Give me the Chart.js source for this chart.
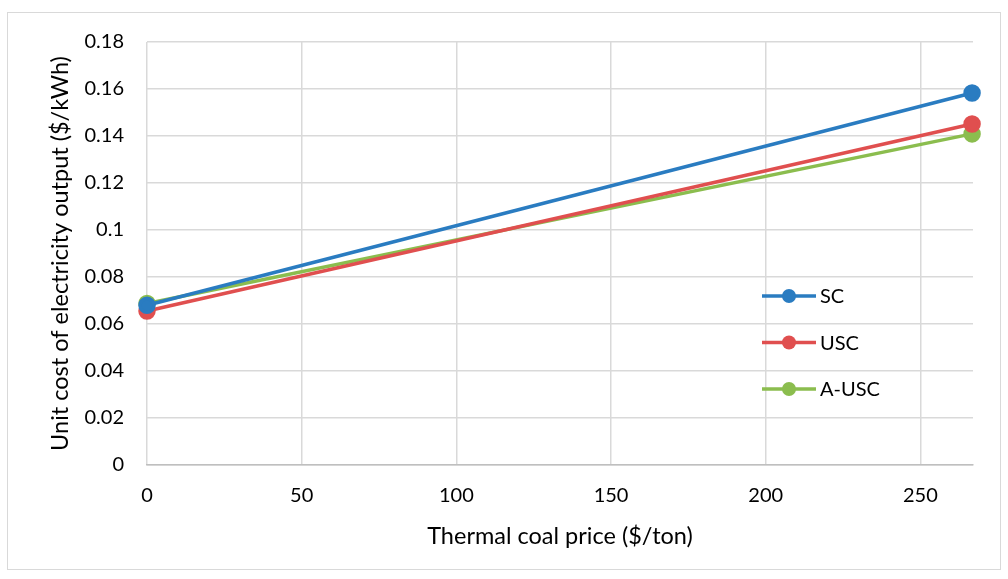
<!DOCTYPE html>
<html>
<head>
<meta charset="utf-8">
<script src="https://cdn.jsdelivr.net/npm/chart.js@4"></script>
<style>
    html, body { margin: 0; padding: 0; background: #fff; }
    #wrap { width: 1008px; height: 579px; }
</style>
</head>
<body>
<div id="wrap"><canvas id="coalChart" width="1008" height="579"></canvas></div>
<script>
// Values
const coalPrice = [0, 266.7];
const scCost = [0.0680, 0.1583];
const uscCost = [0.0655, 0.1451];
const auscCost = [0.0687, 0.1409];
const seriesNames = ['SC', 'USC', 'A-USC'];
const seriesColors = ['#2a7cc1', '#e04f4f', '#8bbd4e'];

const FONT = 'Lato, "Open Sans", sans-serif';

function toPoints(xs, ys) {
    return xs.map((x, i) => ({ x: x, y: ys[i] }));
}

// Legend drawn inside the plot area, plus the outer frame
const insideLegend = {
    id: 'insideLegend',
    afterDraw(chart) {
        const ctx = chart.ctx;
        ctx.save();
        ctx.strokeStyle = '#d9d9d9';
        ctx.lineWidth = 1;
        ctx.strokeRect(7.5, 12.5, 993, 557);

        const x0 = 762, y0 = 296, step = 46.5;
        ctx.font = '20px ' + FONT;
        ctx.textBaseline = 'middle';
        chart.data.datasets.forEach((ds, i) => {
            const y = y0 + i * step;
            ctx.strokeStyle = ds.borderColor;
            ctx.lineWidth = 3.5;
            ctx.beginPath();
            ctx.moveTo(x0, y);
            ctx.lineTo(x0 + 54, y);
            ctx.stroke();
            ctx.fillStyle = ds.borderColor;
            ctx.beginPath();
            ctx.arc(x0 + 27, y, 7, 0, Math.PI * 2);
            ctx.fill();
            ctx.fillStyle = '#000';
            ctx.fillText(ds.label, x0 + 58, y + 1);
        });
        ctx.restore();
    }
};

const datasets = [scCost, uscCost, auscCost].map((vals, i) => ({
    label: seriesNames[i],
    data: toPoints(coalPrice, vals),
    borderColor: seriesColors[i],
    backgroundColor: seriesColors[i],
    borderWidth: 3.5,
    pointRadius: 7,
    pointHoverRadius: 7,
    fill: false,
    clip: false
}));

new Chart(document.getElementById('coalChart').getContext('2d'), {
    type: 'line',
    data: { datasets: datasets },
    options: {
        responsive: false,
        animation: false,
        layout: { padding: { left: 0, top: 42, right: 35, bottom: 0 } },
        plugins: {
            legend: { display: false },
            tooltip: { enabled: false }
        },
        scales: {
            x: {
                type: 'linear',
                min: 0,
                max: 267,
                afterFit: scale => { scale.height = 114; },
                afterBuildTicks: scale => {
                    scale.ticks = [0, 50, 100, 150, 200, 250].map(v => ({ value: v }));
                },
                grid: { color: '#d9d9d9', lineWidth: 1.5, drawTicks: false },
                border: { color: '#bfbfbf', width: 1.5 },
                ticks: { color: '#000', padding: 19, font: { family: FONT, size: 20 } },
                title: {
                    display: true,
                    text: 'Thermal coal price ($/ton)',
                    color: '#000',
                    padding: { bottom: 28 },
                    font: { family: FONT, size: 23.5 }
                }
            },
            y: {
                min: 0,
                max: 0.18,
                afterFit: scale => { scale.width = 147; },
                grid: { color: '#d9d9d9', lineWidth: 1.5, drawTicks: false },
                border: { display: false },
                ticks: {
                    stepSize: 0.02,
                    color: '#000',
                    padding: 23,
                    font: { family: FONT, size: 20 },
                    callback: v => +v.toFixed(2)
                },
                title: {
                    display: true,
                    text: 'Unit cost of electricity output ($/kWh)',
                    color: '#000',
                    padding: { top: 46 },
                    font: { family: FONT, size: 23.5 }
                }
            }
        }
    },
    plugins: [insideLegend]
});
</script>
</body>
</html>
